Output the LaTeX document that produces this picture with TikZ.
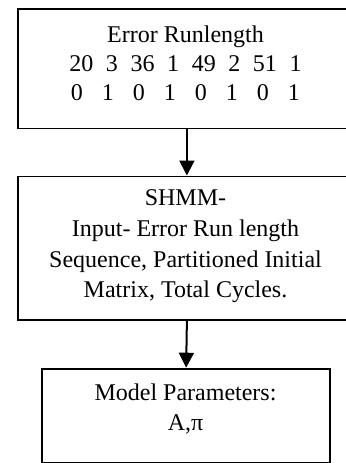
\documentclass[tikz,border=0pt]{standalone}
\usepackage{fontspec}
\setmainfont{Liberation Serif}
\usetikzlibrary{arrows.meta}
\tikzset{
  box/.style={draw=black, line width=0.9pt, inner sep=0pt, anchor=north west},
  txt/.style={anchor=base, inner sep=0pt, font=\fontsize{12}{14}\selectfont},
  conn/.style={draw=black, line width=1pt, -{Triangle[width=7.5pt,length=7.5pt]}}
}
\begin{document}
\begin{tikzpicture}[x=0.5pt,y=-0.5pt]
\useasboundingbox (0,0) rectangle (346,463);
% boxes
\node[box, minimum width=169pt, minimum height=59.75pt] (b1) at (17,8) {};
\node[box, minimum width=169pt, minimum height=71.75pt] (b2) at (17,175.5) {};
\node[box, minimum width=144.25pt, minimum height=47.15pt] (b3) at (41,367.7) {};
% box 1 text
\node[txt] (t1a) at (185.5,42.5) {Error Runlength};
\node[txt] (t1b) at (185.5,71.5) {20\hspace{6.3pt}3\hspace{6.3pt}36\hspace{6.3pt}1\hspace{6.3pt}49\hspace{6.3pt}2\hspace{6.3pt}51\hspace{6.3pt}1};
\node[txt] (t1c) at (185.5,100) {0\hspace{9.5pt}1\hspace{9.5pt}0\hspace{9.5pt}1\hspace{9.5pt}0\hspace{9.5pt}1\hspace{9.5pt}0\hspace{9.5pt}1};
% box 2 text
\node[txt] (t2a) at (185.5,205) {SHMM-};
\node[txt] (t2b) at (185.5,236.5) {Input- Error Run length};
\node[txt] (t2c) at (185.5,267.5) {Sequence, Partitioned Initial};
\node[txt] (t2d) at (185.5,297.5) {Matrix, Total Cycles.};
% box 3 text
\node[txt] (t3a) at (185.5,400) {Model Parameters:};
\node[txt] (t3b) at (185.5,430) {A,π};
% connectors
\draw[conn] (b1.south) -- (b2.north);
\draw[conn] (b2.south) -- (b3.north);
\end{tikzpicture}
\end{document}
